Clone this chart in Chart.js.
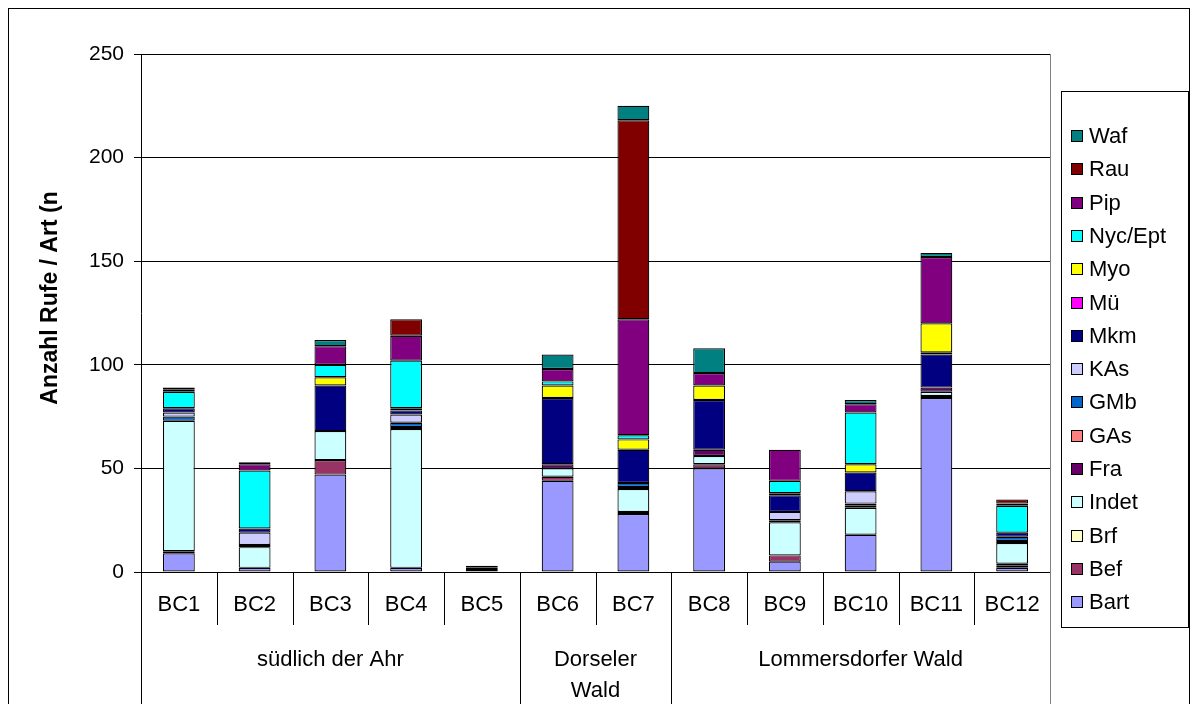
<!DOCTYPE html>
<html>
<head>
<meta charset="utf-8">
<script src="https://cdn.jsdelivr.net/npm/chart.js@4.4.1/dist/chart.umd.min.js"></script>
<style>
  html, body { margin: 0; padding: 0; background: #fff; }
  #wrap { width: 1198px; height: 704px; position: relative; }
</style>
</head>
<body>
<div id="wrap"><canvas id="c" width="1198" height="704"></canvas></div>
<script>
// Recording stations
const stations = ['BC1','BC2','BC3','BC4','BC5','BC6','BC7','BC8','BC9','BC10','BC11','BC12'];

// Areas grouping the stations (label lines, first index, count)
const groupLabels = [['südlich der Ahr'], ['Dorseler', 'Wald'], ['Lommersdorfer Wald']];
const groupStart = [0, 5, 7];
const groupSize = [5, 2, 5];

// Calls per species and station (stacked from the bottom up)
const bart  = [9, 2, 47, 2, 0, 44, 28, 50, 5, 18, 84, 2];
const bef   = [1, 0, 7, 0, 0, 2, 1, 2, 3, 0, 1, 1];
const brf   = [0, 0, 0, 0, 0, 0, 0, 0, 0, 0, 0, 1];
const indet = [63, 10, 14, 67, 1, 4, 11, 4, 16, 13, 2, 10];
const fra   = [0, 1, 0, 1, 0, 2, 1, 3, 0, 1, 2, 1];
const gas   = [0, 0, 0, 0, 0, 0, 0, 0, 0, 0, 0, 0];
const gmb   = [2, 0, 0, 2, 0, 0, 2, 0, 1, 1, 0, 2];
const kas   = [2, 6, 0, 4, 0, 0, 0, 0, 4, 6, 0, 0];
const mkm   = [2, 2, 22, 2, 1, 32, 16, 24, 8, 9, 16, 2];
const mue   = [0, 0, 0, 0, 0, 0, 0, 0, 0, 0, 1, 0];
const myo   = [0, 0, 4, 1, 0, 6, 5, 7, 1, 4, 14, 0];
const nyc   = [8, 28, 6, 23, 0, 2, 2, 0, 6, 25, 0, 13];
const pip   = [1, 3, 9, 12, 0, 6, 56, 6, 15, 4, 32, 1];
const rau   = [0, 0, 0, 8, 0, 0, 96, 0, 0, 0, 0, 2];
const waf   = [1, 1, 3, 0, 1, 7, 7, 12, 0, 2, 2, 0];

// Y axis ticks
const yTicks = [0, 50, 100, 150, 200, 250];

const FONT = "'Liberation Sans', Arial, sans-serif";

const series = [
  ['Bart', bart, '#9999FF'],
  ['Bef', bef, '#993366'],
  ['Brf', brf, '#FFFFCC'],
  ['Indet', indet, '#CCFFFF'],
  ['Fra', fra, '#660066'],
  ['GAs', gas, '#FF8080'],
  ['GMb', gmb, '#0066CC'],
  ['KAs', kas, '#CCCCFF'],
  ['Mkm', mkm, '#000080'],
  ['Mü', mue, '#FF00FF'],
  ['Myo', myo, '#FFFF00'],
  ['Nyc/Ept', nyc, '#00FFFF'],
  ['Pip', pip, '#800080'],
  ['Rau', rau, '#800000'],
  ['Waf', waf, '#008080']
];

const datasets = series.map(([label, data, color]) => ({
  label, data,
  backgroundColor: color,
  borderColor: '#000',
  borderWidth: 1.2,
  borderSkipped: false,
  barPercentage: 0.42,
  categoryPercentage: 1.0
}));

// Frame, axis title, area groups and legend
const decorations = {
  id: 'decorations',
  afterDraw(chart) {
    const ctx = chart.ctx;
    const area = chart.chartArea;
    const x = chart.scales.x;
    const bottom = 704;
    ctx.save();

    // outer frame
    ctx.strokeStyle = '#000';
    ctx.lineWidth = 1;
    ctx.strokeRect(8.5, 8.5, 1181, 720);

    // right plot edge
    ctx.strokeStyle = '#808080';
    ctx.beginPath();
    ctx.moveTo(Math.round(area.right) + 0.5, area.top);
    ctx.lineTo(Math.round(area.right) + 0.5, bottom);
    ctx.stroke();

    // dividers under the category axis
    ctx.strokeStyle = '#000';
    const edge = i => i === 0 ? area.left : i === stations.length ? area.right
      : (x.getPixelForTick(i - 1) + x.getPixelForTick(i)) / 2;
    const groupEdges = new Set([0]);
    groupStart.forEach((s, g) => groupEdges.add(s + groupSize[g]));
    for (let i = 0; i < stations.length; i++) {
      const px = Math.round(edge(i)) + 0.5;
      ctx.beginPath();
      ctx.moveTo(px, area.bottom);
      ctx.lineTo(px, groupEdges.has(i) ? bottom : area.bottom + 53);
      ctx.stroke();
    }

    // area labels
    ctx.fillStyle = '#000';
    ctx.font = '22px ' + FONT;
    ctx.textAlign = 'center';
    ctx.textBaseline = 'middle';
    groupLabels.forEach((lines, g) => {
      const cx = (edge(groupStart[g]) + edge(groupStart[g] + groupSize[g])) / 2;
      lines.forEach((t, k) => ctx.fillText(t, cx, 660 + k * 31));
    });

    // y axis title
    ctx.save();
    ctx.translate(51, 298);
    ctx.rotate(-Math.PI / 2);
    ctx.font = 'bold 23px ' + FONT;
    ctx.fillText('Anzahl Rufe / Art (n', 0, 0);
    ctx.restore();

    // legend
    const lx = 1061, ly = 91, lw = 127, lh = 536;
    ctx.fillStyle = '#fff';
    ctx.fillRect(lx, ly, lw, lh);
    ctx.strokeStyle = '#000';
    ctx.strokeRect(lx + 0.5, ly + 0.5, lw, lh);
    ctx.textAlign = 'left';
    ctx.font = '22px ' + FONT;
    const items = chart.data.datasets.slice().reverse();
    items.forEach((ds, k) => {
      const cy = 136 + k * 33.3;
      ctx.fillStyle = ds.backgroundColor;
      ctx.fillRect(1071, Math.round(cy - 6), 12, 12);
      ctx.strokeStyle = '#000';
      ctx.strokeRect(1071.5, Math.round(cy - 6) + 0.5, 11, 11);
      ctx.fillStyle = '#000';
      ctx.fillText(ds.label, 1089, cy + 1);
    });
    ctx.restore();
  }
};

new Chart(document.getElementById('c'), {
  type: 'bar',
  data: { labels: stations, datasets },
  options: {
    responsive: false,
    animation: false,
    devicePixelRatio: 1,
    layout: { padding: { left: 0, top: 54, right: 148, bottom: 0 } },
    plugins: { legend: { display: false }, tooltip: { enabled: false } },
    scales: {
      x: {
        stacked: true,
        grid: { display: false, drawTicks: false },
        border: { display: true, color: '#000', width: 1 },
        ticks: { color: '#000', font: { family: FONT, size: 22 }, padding: 20, maxRotation: 0, autoSkip: false },
        afterFit(scale) { scale.height = 132; }
      },
      y: {
        stacked: true,
        min: 0, max: 250,
        afterBuildTicks(scale) { scale.ticks = yTicks.map(v => ({ value: v })); },
        grid: { color: '#000', lineWidth: 1, tickLength: 7 },
        border: { display: true, color: '#000', width: 1 },
        ticks: { color: '#000', font: { family: FONT, size: 21 }, padding: 10 },
        afterFit(scale) { scale.width = 141; }
      }
    }
  },
  plugins: [decorations]
});
</script>
</body>
</html>
